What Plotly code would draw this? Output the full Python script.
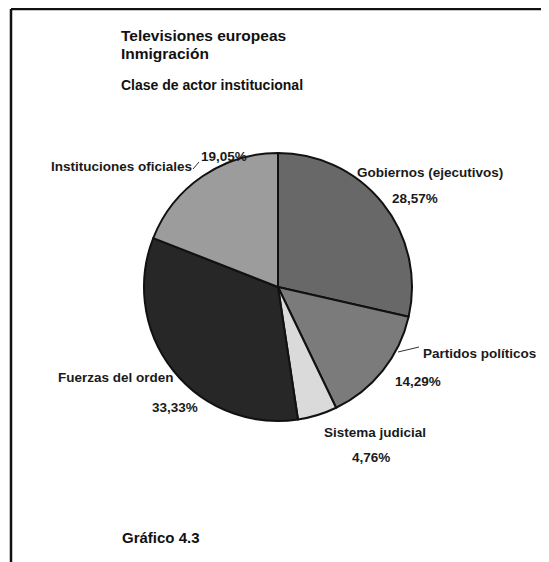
import plotly.graph_objects as go

# la pagina html tiene 8px de margen en el body
OFF = 8
W, H = 549 - OFF, 562 - OFF

# datos
categorias = [
    "Gobiernos (ejecutivos)",
    "Partidos políticos",
    "Sistema judicial",
    "Fuerzas del orden",
    "Instituciones oficiales",
]
porcentajes = [28.57, 14.29, 4.76, 33.33, 19.05]
colores = ["#686868", "#7b7b7b", "#dadada", "#272727", "#9c9c9c"]

titulo = ["Televisiones europeas", "Inmigración"]
subtitulo = "Clase de actor institucional"
pie_texto = "Gráfico 4.3"

FONT = "Liberation Sans, Arial, sans-serif"


def px(x, y):
    # pixel de la ventana (arriba-izquierda) -> coordenadas paper
    return (x - OFF) / W, 1 - (y - OFF) / H


cx, cy, r = 278, 287, 134
x0, y1 = px(cx - r, cy - r)
x1, y0 = px(cx + r, cy + r)

fig = go.Figure(
    go.Pie(
        labels=categorias,
        values=porcentajes,
        sort=False,
        direction="clockwise",
        rotation=0,
        textinfo="none",
        hoverinfo="label+percent",
        marker={"colors": colores, "line": {"color": "#111111", "width": 2}},
        domain={"x": [x0, x1], "y": [y0, y1]},
        showlegend=False,
    )
)

# posiciones (px) de las etiquetas: nombre y porcentaje
pos_nombre = [(355, 172), (421, 353), (322, 432), (56, 377), (49, 166)]
pos_valor = [(390, 198), (393, 381), (350, 457), (150, 407), (199, 156)]

for nombre, valor, pn, pv in zip(categorias, porcentajes, pos_nombre, pos_valor):
    ax, ay = px(*pn)
    fig.add_annotation(
        x=ax, y=ay, xref="paper", yref="paper", text=f"<b>{nombre}</b>",
        showarrow=False, xanchor="left", yanchor="middle",
        font={"size": 13.5, "color": "#1a1a1a", "family": FONT},
    )
    vx, vy = px(*pv)
    fig.add_annotation(
        x=vx, y=vy, xref="paper", yref="paper",
        text=f"<b>{valor:.2f}%</b>".replace(".", ","),
        showarrow=False, xanchor="left", yanchor="middle",
        font={"size": 13.5, "color": "#1a1a1a", "family": FONT},
    )

# titulos
for txt, yy in zip(titulo, [35, 53]):
    tx, ty = px(119, yy)
    fig.add_annotation(
        x=tx, y=ty, xref="paper", yref="paper", text=f"<b>{txt}</b>",
        showarrow=False, xanchor="left", yanchor="middle",
        font={"size": 15.5, "color": "#111111", "family": FONT},
    )
tx, ty = px(119, 85)
fig.add_annotation(
    x=tx, y=ty, xref="paper", yref="paper", text=f"<b>{subtitulo}</b>",
    showarrow=False, xanchor="left", yanchor="middle",
    font={"size": 14, "color": "#111111", "family": FONT},
)
tx, ty = px(120, 537)
fig.add_annotation(
    x=tx, y=ty, xref="paper", yref="paper", text=f"<b>{pie_texto}</b>",
    showarrow=False, xanchor="left", yanchor="middle",
    font={"size": 15, "color": "#111111", "family": FONT},
)

# lineas guia
for (a, b, c, d) in [(398, 352, 419, 347), (193, 169, 199, 162)]:
    p0 = px(a, b)
    p1 = px(c, d)
    fig.add_shape(type="line", xref="paper", yref="paper",
                  x0=p0[0], y0=p0[1], x1=p1[0], y1=p1[1],
                  line={"color": "#333333", "width": 1})

# marco de la pagina (arriba e izquierda)
fa, fb = px(11, 9)
fig.add_shape(type="line", xref="paper", yref="paper", x0=fa, y0=fb, x1=1, y1=fb,
              line={"color": "#111111", "width": 2.5})
fig.add_shape(type="line", xref="paper", yref="paper", x0=fa, y0=fb, x1=fa, y1=0,
              line={"color": "#111111", "width": 2.5})

fig.update_layout(
    width=W,
    height=H,
    margin={"l": 0, "r": 0, "t": 0, "b": 0},
    paper_bgcolor="#ffffff",
    plot_bgcolor="#ffffff",
    font={"family": FONT},
)

fig.write_html("out.html")
